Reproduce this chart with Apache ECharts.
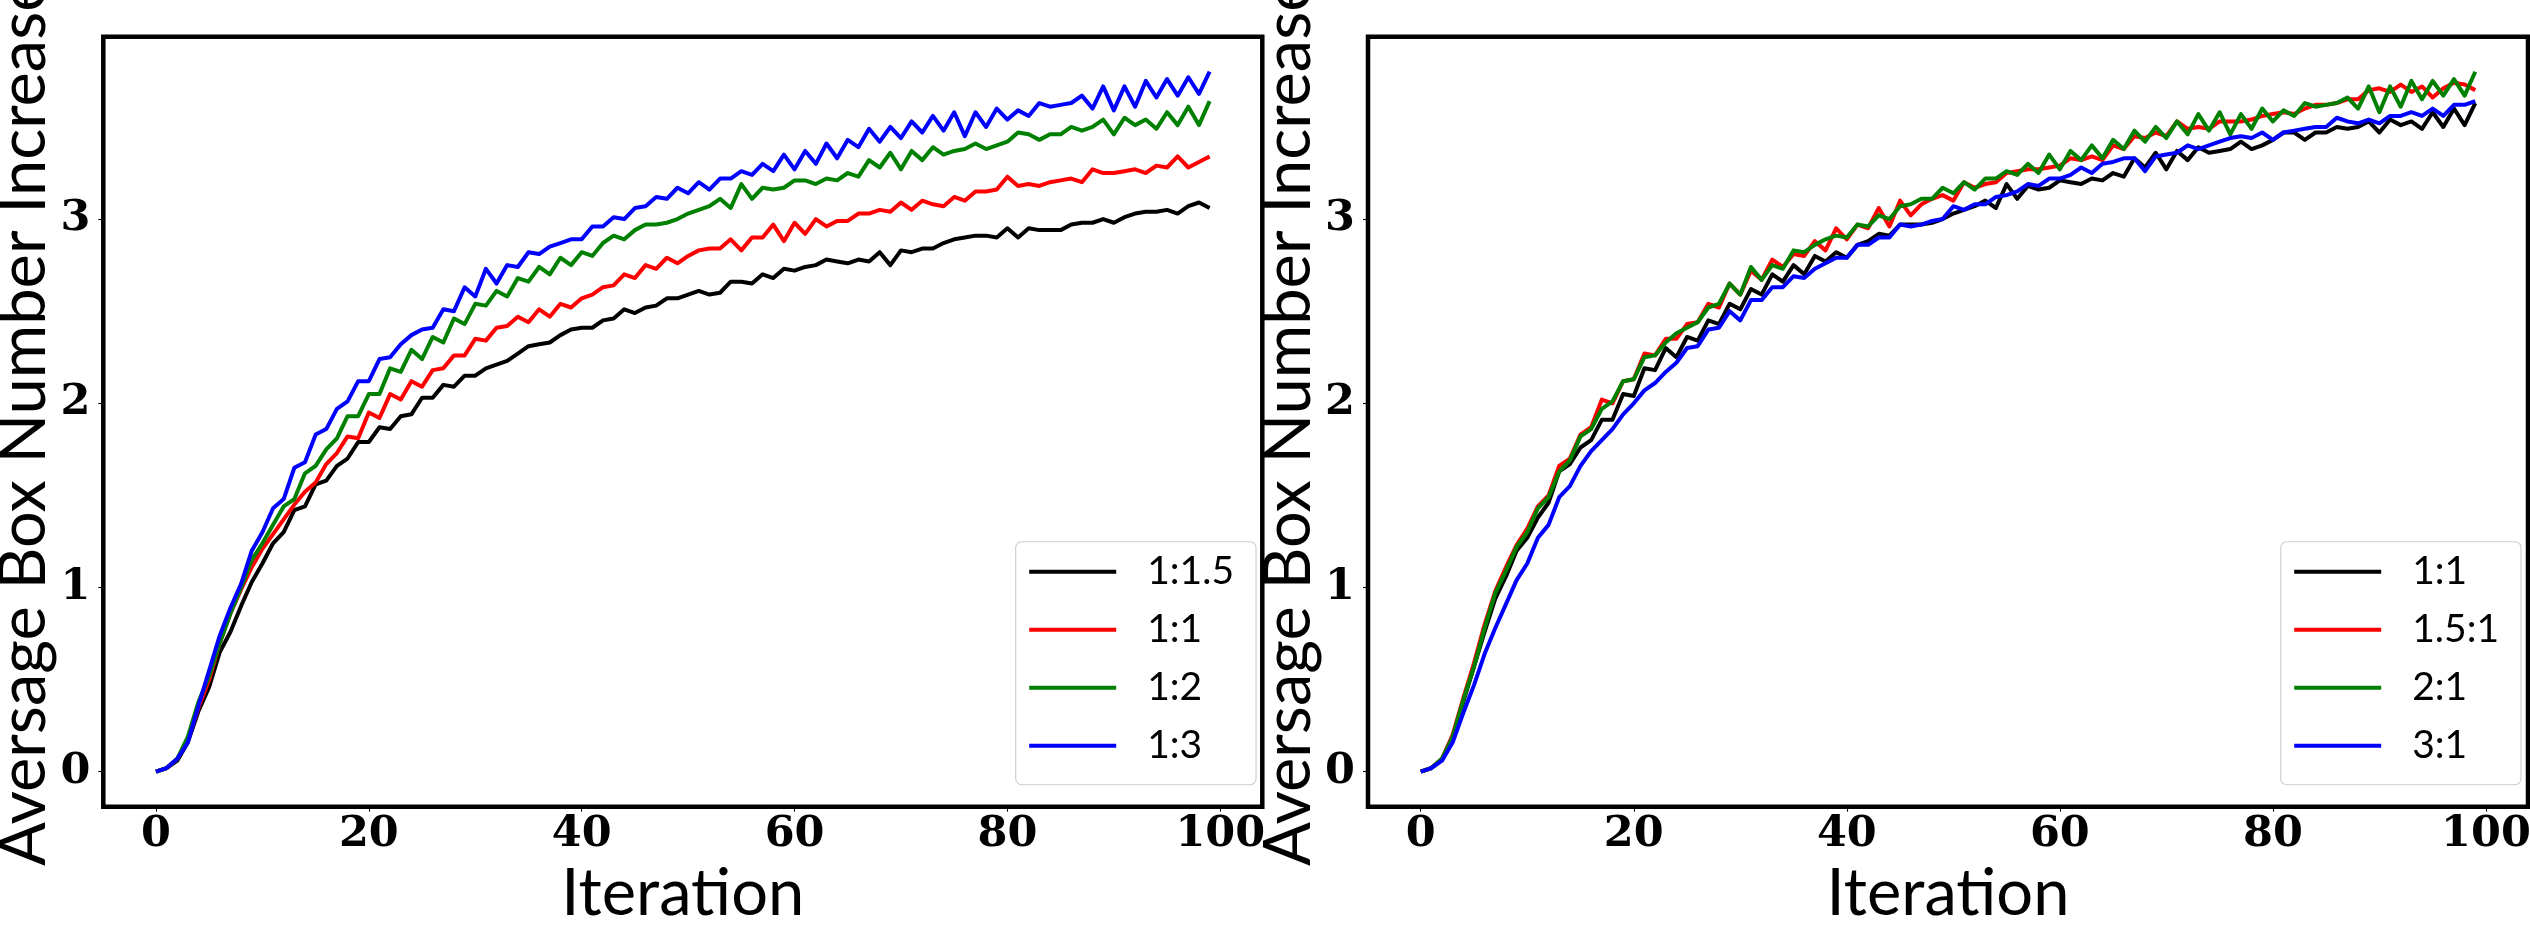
<!DOCTYPE html>
<html><head><meta charset="utf-8">
<script src="https://cdn.jsdelivr.net/npm/echarts@6.0.0/dist/echarts.min.js"></script>
<style>html,body{margin:0;padding:0;background:#fff}#c{width:2530px;height:926px}</style>
</head><body><div id="c"></div>
<script>
const iterations = Array.from({length: 100}, (_, i) => i);
const xTicks = [0, 20, 40, 60, 80, 100];
const yTicks = [0, 1, 2, 3];
const leftNames = ['1:1.5', '1:1', '1:2', '1:3'];
const rightNames = ['1:1', '1.5:1', '2:1', '3:1'];
const lineColors = ['#000000', '#ff0000', '#008000', '#0000ff'];
const xLabel = 'Iteration';
const yLabel = 'Aversage Box Number Increase';

// Left panel
const left_1_1_5 = [0,0.02,0.06,0.16,0.33,0.46,0.65,0.76,0.90,1.03,
  1.13,1.24,1.30,1.42,1.44,1.56,1.58,1.66,1.70,1.79,
  1.79,1.87,1.86,1.93,1.94,2.03,2.03,2.10,2.09,2.15,
  2.15,2.19,2.21,2.23,2.27,2.31,2.32,2.33,2.37,2.40,
  2.41,2.41,2.45,2.46,2.51,2.49,2.52,2.53,2.57,2.57,
  2.59,2.61,2.59,2.60,2.66,2.66,2.65,2.70,2.68,2.73,
  2.72,2.74,2.75,2.78,2.77,2.76,2.78,2.77,2.82,2.75,
  2.83,2.82,2.84,2.84,2.87,2.89,2.90,2.91,2.91,2.90,
  2.95,2.90,2.95,2.94,2.94,2.94,2.97,2.98,2.98,3.00,
  2.98,3.01,3.03,3.04,3.04,3.05,3.03,3.07,3.09,3.06];
const left_1_1 = [0,0.02,0.07,0.17,0.35,0.50,0.70,0.86,0.99,1.11,
  1.21,1.29,1.37,1.45,1.52,1.57,1.67,1.73,1.82,1.81,
  1.95,1.92,2.05,2.02,2.12,2.09,2.18,2.19,2.26,2.26,
  2.35,2.34,2.41,2.42,2.47,2.44,2.51,2.47,2.54,2.52,
  2.57,2.59,2.63,2.64,2.70,2.68,2.75,2.73,2.79,2.76,
  2.80,2.83,2.84,2.84,2.89,2.83,2.90,2.90,2.97,2.88,
  2.98,2.92,3.00,2.96,2.99,2.99,3.03,3.03,3.05,3.04,
  3.09,3.05,3.10,3.08,3.07,3.12,3.10,3.15,3.15,3.16,
  3.23,3.18,3.19,3.18,3.20,3.21,3.22,3.20,3.27,3.25,
  3.25,3.26,3.27,3.25,3.29,3.28,3.34,3.28,3.31,3.34];
const left_1_2 = [0,0.02,0.07,0.19,0.38,0.52,0.70,0.86,1.00,1.15,
  1.24,1.34,1.44,1.48,1.62,1.66,1.75,1.81,1.93,1.93,
  2.05,2.05,2.19,2.17,2.29,2.24,2.36,2.33,2.46,2.43,
  2.54,2.53,2.61,2.58,2.68,2.66,2.74,2.70,2.79,2.75,
  2.82,2.80,2.87,2.91,2.89,2.94,2.97,2.97,2.98,3.00,
  3.03,3.05,3.07,3.11,3.06,3.19,3.11,3.17,3.16,3.17,
  3.21,3.21,3.19,3.22,3.21,3.25,3.23,3.32,3.28,3.36,
  3.27,3.37,3.32,3.39,3.35,3.37,3.38,3.41,3.38,3.40,
  3.42,3.47,3.46,3.43,3.46,3.46,3.50,3.48,3.50,3.54,
  3.46,3.55,3.51,3.54,3.49,3.58,3.51,3.61,3.51,3.64];
const left_1_3 = [0,0.02,0.07,0.16,0.36,0.55,0.74,0.89,1.02,1.20,
  1.30,1.43,1.48,1.65,1.68,1.83,1.86,1.97,2.01,2.12,
  2.12,2.24,2.25,2.32,2.37,2.40,2.41,2.51,2.50,2.63,
  2.58,2.73,2.65,2.75,2.74,2.82,2.81,2.85,2.87,2.89,
  2.89,2.96,2.96,3.01,3.00,3.06,3.07,3.12,3.11,3.17,
  3.14,3.20,3.16,3.22,3.22,3.26,3.24,3.30,3.26,3.35,
  3.27,3.37,3.30,3.41,3.33,3.43,3.39,3.49,3.42,3.50,
  3.44,3.53,3.47,3.56,3.48,3.58,3.45,3.58,3.50,3.60,
  3.54,3.59,3.56,3.63,3.61,3.62,3.63,3.67,3.60,3.72,
  3.59,3.72,3.61,3.75,3.66,3.76,3.67,3.77,3.68,3.80];

// Right panel
const right_1_1 = [0,0.02,0.07,0.19,0.38,0.57,0.76,0.94,1.06,1.20,
  1.27,1.38,1.46,1.63,1.67,1.76,1.80,1.91,1.91,2.05,
  2.04,2.19,2.18,2.30,2.25,2.36,2.34,2.45,2.43,2.54,
  2.51,2.62,2.59,2.70,2.66,2.75,2.70,2.80,2.77,2.82,
  2.79,2.86,2.88,2.92,2.91,2.97,2.97,2.97,2.98,3.00,
  3.03,3.05,3.07,3.10,3.06,3.19,3.11,3.18,3.16,3.17,
  3.21,3.20,3.19,3.22,3.21,3.25,3.23,3.33,3.28,3.36,
  3.27,3.37,3.32,3.39,3.36,3.37,3.38,3.42,3.38,3.40,
  3.43,3.47,3.47,3.43,3.47,3.47,3.50,3.49,3.50,3.53,
  3.47,3.54,3.51,3.53,3.49,3.58,3.50,3.60,3.51,3.63];
const right_1_5_1 = [0,0.02,0.07,0.20,0.40,0.59,0.80,0.98,1.11,1.23,
  1.32,1.44,1.50,1.66,1.70,1.83,1.87,2.02,2.00,2.12,
  2.13,2.27,2.26,2.35,2.35,2.43,2.44,2.54,2.52,2.65,
  2.59,2.72,2.67,2.78,2.74,2.81,2.80,2.88,2.83,2.95,
  2.89,2.97,2.95,3.06,2.96,3.10,3.02,3.08,3.11,3.13,
  3.10,3.20,3.17,3.19,3.20,3.25,3.26,3.27,3.27,3.28,
  3.29,3.33,3.32,3.34,3.32,3.40,3.38,3.45,3.44,3.47,
  3.45,3.53,3.49,3.50,3.49,3.53,3.53,3.53,3.54,3.56,
  3.57,3.58,3.57,3.60,3.62,3.62,3.63,3.65,3.65,3.70,
  3.71,3.69,3.73,3.69,3.72,3.66,3.71,3.74,3.73,3.70];
const right_2_1 = [0,0.02,0.07,0.19,0.39,0.57,0.78,0.97,1.09,1.22,
  1.30,1.43,1.49,1.63,1.69,1.82,1.86,1.97,2.01,2.12,
  2.13,2.25,2.26,2.33,2.38,2.41,2.44,2.52,2.54,2.65,
  2.59,2.74,2.67,2.75,2.73,2.83,2.82,2.86,2.89,2.91,
  2.90,2.97,2.96,3.02,3.00,3.07,3.08,3.11,3.11,3.17,
  3.14,3.20,3.16,3.22,3.22,3.26,3.24,3.30,3.25,3.35,
  3.27,3.37,3.32,3.40,3.33,3.43,3.38,3.48,3.42,3.50,
  3.44,3.53,3.46,3.57,3.48,3.58,3.46,3.57,3.49,3.60,
  3.53,3.59,3.56,3.63,3.61,3.62,3.63,3.66,3.60,3.72,
  3.58,3.72,3.61,3.75,3.65,3.75,3.67,3.76,3.67,3.80];
const right_3_1 = [0,0.02,0.06,0.16,0.32,0.47,0.64,0.78,0.91,1.04,
  1.13,1.27,1.34,1.49,1.55,1.66,1.74,1.80,1.86,1.94,
  2.00,2.07,2.11,2.17,2.22,2.30,2.31,2.40,2.41,2.50,
  2.45,2.56,2.56,2.63,2.63,2.69,2.68,2.73,2.76,2.79,
  2.79,2.86,2.86,2.90,2.90,2.97,2.96,2.97,2.99,3.00,
  3.07,3.05,3.08,3.08,3.12,3.13,3.15,3.19,3.18,3.22,
  3.22,3.24,3.28,3.25,3.30,3.31,3.33,3.33,3.26,3.34,
  3.35,3.36,3.40,3.38,3.40,3.42,3.44,3.45,3.44,3.47,
  3.43,3.47,3.48,3.49,3.50,3.50,3.55,3.53,3.52,3.54,
  3.52,3.56,3.56,3.58,3.56,3.60,3.56,3.62,3.62,3.64];

const leftSeriesValues = [left_1_1_5, left_1_1, left_1_2, left_1_3];
const rightSeriesValues = [right_1_1, right_1_5_1, right_2_1, right_3_1];

const chart = echarts.init(document.getElementById('c'), null, {renderer: 'canvas'});

const tickFont = {fontFamily: 'DejaVu Serif', fontWeight: 'bold', fontSize: 43, color: '#000'};
const nameFont = {fontFamily: 'Lato', fontSize: 65, color: '#000'};

function makeX(gi) {
  return {
    type: 'value', gridIndex: gi, min: -4.95, max: 103.95, position: 'bottom',
    name: xLabel, nameLocation: 'middle', nameGap: 50, nameTextStyle: nameFont,
    axisLine: {show: false, onZero: false},
    axisTick: {show: true, inside: false, length: 5, lineStyle: {color: '#000', width: 1.1}, customValues: xTicks},
    axisLabel: Object.assign({customValues: xTicks, margin: 7}, tickFont),
    splitLine: {show: false}
  };
}
function makeY(gi) {
  return {
    type: 'value', gridIndex: gi, min: -0.19, max: 3.99, position: 'left',
    name: yLabel, nameLocation: 'middle', nameGap: 45, nameTextStyle: nameFont,
    axisLine: {show: false, onZero: false},
    axisTick: {show: true, inside: false, length: 5, lineStyle: {color: '#000', width: 1.1}, customValues: yTicks},
    axisLabel: Object.assign({customValues: yTicks, margin: 13}, tickFont),
    splitLine: {show: false}
  };
}
function makeLegend(names, left) {
  return {
    orient: 'vertical', left: left, top: 541.7,
    selectedMode: false,
    icon: 'rect', itemWidth: 87, itemHeight: 4, itemGap: 18,
    padding: [10, 22, 19, 13.5],
    backgroundColor: 'rgba(255,255,255,0.8)',
    borderColor: '#cccccc', borderWidth: 1.1, borderRadius: 6,
    itemStyle: {borderWidth: 0},
    textStyle: {fontFamily: 'Lato', fontSize: 39, color: '#000', lineHeight: 40, width: 75, padding: [0, 0, 0, 26]},
    data: names.map((n, k) => ({name: n, itemStyle: {color: lineColors[k], borderWidth: 0}}))
  };
}
const series = [];
[leftSeriesValues, rightSeriesValues].forEach((group, gi) => {
  const names = gi === 0 ? leftNames : rightNames;
  group.forEach((vals, k) => {
    series.push({
      type: 'line', name: names[k], xAxisIndex: gi, yAxisIndex: gi,
      data: iterations.map((it, j) => [it, vals[j]]),
      showSymbol: false, symbol: 'none',
      lineStyle: {color: lineColors[k], width: 4, join: 'round'},
      itemStyle: {color: lineColors[k]},
      emphasis: {disabled: true}, silent: true
    });
  });
});

const gridCommon = {show: true, borderColor: '#000', borderWidth: 4.5, backgroundColor: 'transparent', containLabel: false, outerBoundsMode: 'none'};

chart.setOption({
  animation: false,
  backgroundColor: '#ffffff',
  grid: [
    Object.assign({left: 103.3, top: 36.7, width: 1159, height: 770}, gridCommon),
    Object.assign({left: 1368, top: 36.7, width: 1160, height: 770}, gridCommon)
  ],
  xAxis: [makeX(0), makeX(1)],
  yAxis: [makeY(0), makeY(1)],
  legend: [makeLegend(leftNames, 1015.7), makeLegend(rightNames, 2280.7)],
  series: series
});
</script></body></html>
